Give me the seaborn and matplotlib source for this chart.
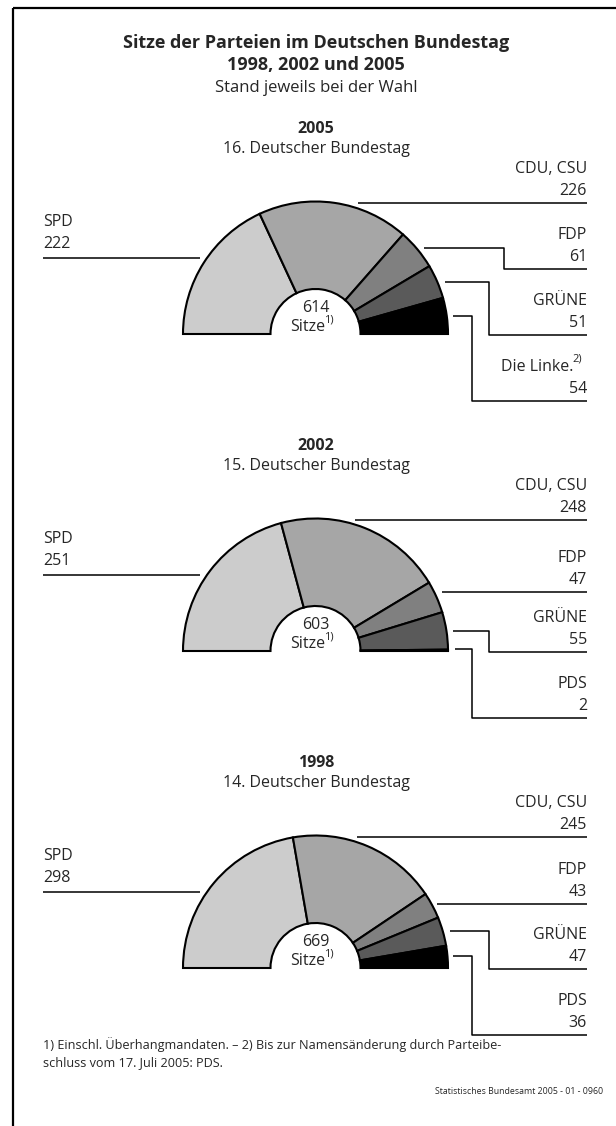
import numpy as np
import matplotlib.pyplot as plt
from matplotlib.patches import Wedge
import seaborn as sns

# data
years = ["2005", "2002", "1998"]
parliaments = ["16. Deutscher Bundestag", "15. Deutscher Bundestag", "14. Deutscher Bundestag"]
parties = {
    "2005": ["SPD", "CDU, CSU", "FDP", "GRÜNE", "Die Linke."],
    "2002": ["SPD", "CDU, CSU", "FDP", "GRÜNE", "PDS"],
    "1998": ["SPD", "CDU, CSU", "FDP", "GRÜNE", "PDS"],
}
seats = {
    "2005": [222, 226, 61, 51, 54],
    "2002": [251, 248, 47, 55, 2],
    "1998": [298, 245, 43, 47, 36],
}
party_colors = ["#cccccc", "#a6a6a6", "#808080", "#5a5a5a", "#000000"]

# layout (pixel coordinates, y downwards)
CX, R_OUT, R_IN = 315.5, 132.5, 45
bases = {"2005": 334, "2002": 651, "1998": 968}
RIGHT = 587
FS = 11.5
# per right-hand party: (line y, stub y, stub start x, elbow x) relative to baseline
leaders = {
    "2005": [(-131, -131, 358, None), (-65, -86, 424, 504), (1, -52, 445, 489), (67, -18, 453, 472)],
    "2002": [(-131, -131, 355, None), (-59, -59, 442, None), (1, -20, 453, 489), (67, -2, 455, 472)],
    "1998": [(-131, -131, 357, None), (-64, -64, 437, None), (1, -37, 450, 489), (67, -12, 453, 472)],
}

sns.set_theme(style="white")
plt.rcParams["font.family"] = ["Open Sans", "DejaVu Sans"]

fig = plt.figure(figsize=(6.16, 11.26), dpi=100)
ax = fig.add_axes([0, 0, 1, 1])
ax.set_xlim(0, 616)
ax.set_ylim(1126, 0)
ax.axis("off")

# frame
ax.plot([13, 13], [8, 1126], color="black", lw=1.6, solid_capstyle="butt")
ax.plot([13, 616], [8, 8], color="black", lw=1.6, solid_capstyle="butt")

ax.text(316, 43, "Sitze der Parteien im Deutschen Bundestag", ha="center", va="center",
        fontsize=13, fontweight="bold")
ax.text(316, 65, "1998, 2002 und 2005", ha="center", va="center", fontsize=13, fontweight="bold")
ax.text(316, 88, "Stand jeweils bei der Wahl", ha="center", va="center", fontsize=12)

lk = dict(color="black", lw=1.1, solid_capstyle="butt")
for year, parl in zip(years, parliaments):
    base = bases[year]
    vals = seats[year]
    total = sum(vals)
    ax.text(316, base - 205, year, ha="center", va="center", fontsize=FS, fontweight="bold")
    ax.text(316, base - 185, parl, ha="center", va="center", fontsize=FS)

    cum = np.concatenate([[0], np.cumsum(vals)])
    for i, col in enumerate(party_colors):
        t1 = 180 + 180 * cum[i] / total
        t2 = 180 + 180 * cum[i + 1] / total
        ax.add_patch(Wedge((CX, base), R_OUT, t1, t2, width=R_OUT - R_IN,
                           facecolor=col, edgecolor="black", lw=1.5, joinstyle="miter"))

    ax.text(CX, base - 26, str(total), ha="center", va="center", fontsize=FS)
    ax.text(325, base - 7, "Sitze", ha="right", va="center", fontsize=FS)
    ax.text(324, base - 14, "1)", ha="left", va="center", fontsize=8)

    # SPD on the left
    ax.text(43, base - 112, parties[year][0], ha="left", va="center", fontsize=FS)
    ax.text(43, base - 90, str(vals[0]), ha="left", va="center", fontsize=FS)
    ax.plot([43, 200], [base - 76, base - 76], **lk)

    for k, (ly, sy, sx, ex) in enumerate(leaders[year]):
        i = k + 1
        name = parties[year][i]
        if name == "Die Linke.":
            ax.text(RIGHT - 14, base + ly - 34, name, ha="right", va="center", fontsize=FS)
            ax.text(RIGHT - 15, base + ly - 42, "2)", ha="left", va="center", fontsize=8)
        else:
            ax.text(RIGHT, base + ly - 34, name, ha="right", va="center", fontsize=FS)
        ax.text(RIGHT, base + ly - 12, str(vals[i]), ha="right", va="center", fontsize=FS)
        if ex is None:
            ax.plot([sx, RIGHT], [base + ly, base + ly], **lk)
        else:
            ax.plot([sx, ex, ex, RIGHT], [base + sy, base + sy, base + ly, base + ly], **lk)

ax.text(43, 1045, "1) Einschl. Überhangmandaten. – 2) Bis zur Namensänderung durch Parteibe-",
        ha="left", va="center", fontsize=9.1)
ax.text(43, 1063, "schluss vom 17. Juli 2005: PDS.", ha="left", va="center", fontsize=9.1)
ax.text(603, 1091, "Statistisches Bundesamt 2005 - 01 - 0960", ha="right", va="center", fontsize=6.3)

fig.savefig("out.png", dpi=100, facecolor="white")
